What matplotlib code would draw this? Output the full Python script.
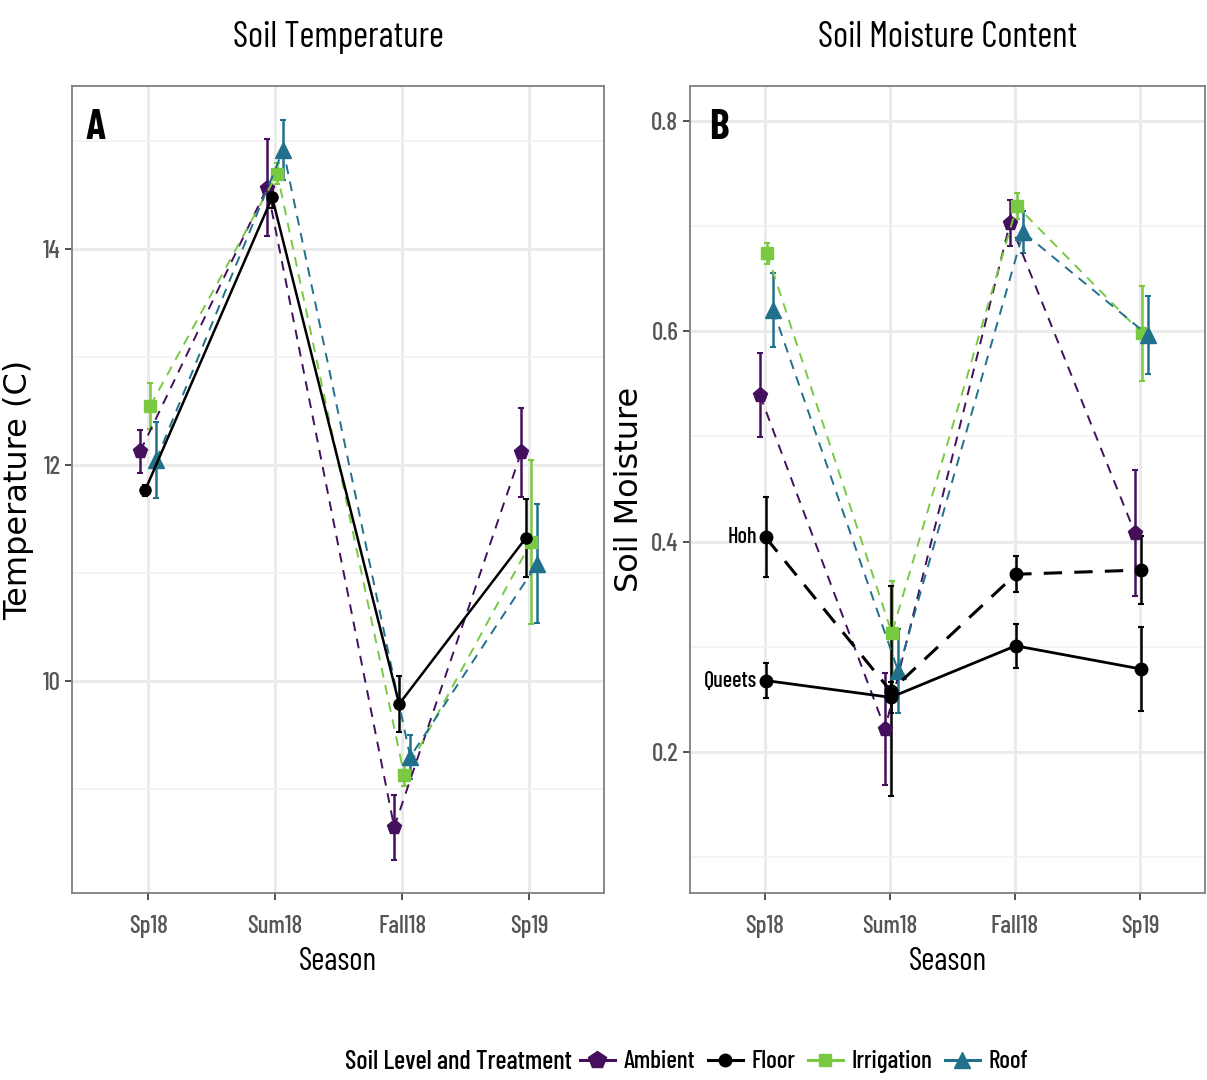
import matplotlib
matplotlib.use("Agg")
from matplotlib import pyplot as plt
from matplotlib.lines import Line2D
import numpy as np

# narrow face when present, plain Liberation Sans otherwise
plt.rcParams['font.family'] = ['Barlow Condensed', 'Archivo Narrow', 'Liberation Sans', 'DejaVu Sans']
plt.rcParams['font.weight'] = 'medium'

seasons = ['Sp18', 'Sum18', 'Fall18', 'Sp19']

# panel A - soil temperature (C)
temp_ambient = [12.13, 14.57, 8.65, 12.12]
temp_ambient_se = [0.20, 0.45, 0.30, 0.41]
temp_floor = [11.77, 14.48, 9.79, 11.33]
temp_floor_se = [0.05, 0.10, 0.26, 0.36]
temp_irrig = [12.55, 14.70, 9.13, 11.29]
temp_irrig_se = [0.21, 0.10, 0.10, 0.76]
temp_roof = [12.05, 14.92, 9.30, 11.09]
temp_roof_se = [0.35, 0.28, 0.20, 0.55]

# panel B - soil moisture
moist_ambient = [0.539, 0.222, 0.703, 0.408]
moist_ambient_se = [0.040, 0.053, 0.022, 0.060]
moist_irrig = [0.674, 0.313, 0.719, 0.598]
moist_irrig_se = [0.010, 0.050, 0.012, 0.045]
moist_roof = [0.620, 0.277, 0.694, 0.596]
moist_roof_se = [0.035, 0.040, 0.020, 0.037]
moist_hoh = [0.404, 0.258, 0.369, 0.373]
moist_hoh_se = [0.038, 0.100, 0.017, 0.032]
moist_queets = [0.268, 0.252, 0.301, 0.279]
moist_queets_se = [0.017, 0.015, 0.021, 0.040]

treatments = ['Ambient', 'Floor', 'Irrigation', 'Roof']

c_amb = '#440f5c'
c_floor = '#000000'
c_irr = '#7ac943'
c_roof = '#21718c'
tick_gray = '#555555'
wide = ['DejaVu Sans']

x = np.arange(1, 5)

fig = plt.figure(figsize=(12.07, 10.8), dpi=100)
axA = fig.add_axes([0.0597, 0.1731, 0.4408, 0.7472])
axB = fig.add_axes([0.5717, 0.1731, 0.4267, 0.7472])


def series(ax, xs, ys, se, color, marker, ls, lw, ms, dashes=None):
    eb = ax.errorbar(xs, ys, yerr=se, color=color, marker=marker, ms=ms,
                     linestyle=ls, lw=lw, elinewidth=1.8, capsize=2.5,
                     capthick=1.5, zorder=3)
    if dashes is not None:
        eb[0].set_dashes(dashes)
    return eb


# panel A
series(axA, x - 0.063, temp_ambient, temp_ambient_se, c_amb, 'p', '--', 1.4, 11, (5, 4))
series(axA, x + 0.016, temp_irrig, temp_irrig_se, c_irr, 's', '--', 1.4, 9, (5, 4))
series(axA, x + 0.063, temp_roof, temp_roof_se, c_roof, '^', '--', 1.4, 11, (5, 4))
series(axA, x - 0.024, temp_floor, temp_floor_se, c_floor, 'o', '-', 1.8, 8)

# panel B
series(axB, x - 0.04, moist_ambient, moist_ambient_se, c_amb, 'p', '--', 1.4, 11, (5, 4))
series(axB, x + 0.015, moist_irrig, moist_irrig_se, c_irr, 's', '--', 1.4, 9, (5, 4))
series(axB, x + 0.065, moist_roof, moist_roof_se, c_roof, '^', '--', 1.4, 11, (5, 4))
series(axB, x + 0.005, moist_hoh, moist_hoh_se, c_floor, 'o', '--', 2.2, 9, (6, 4))
series(axB, x + 0.005, moist_queets, moist_queets_se, c_floor, 'o', '-', 2.0, 9)
axB.text(0.935, moist_hoh[0], 'Hoh', ha='right', va='center', fontsize=16)
axB.text(0.935, moist_queets[0], 'Queets', ha='right', va='center', fontsize=16)

for ax in (axA, axB):
    ax.set_xticks(x)
    ax.set_xticklabels(seasons)
    ax.tick_params(axis='both', colors='#333333', labelcolor=tick_gray,
                   labelsize=18, length=5, width=1.2)
    ax.tick_params(axis='x', pad=11)
    ax.grid(True, which='major', color='#ebebeb', lw=2.2, zorder=0)
    ax.grid(True, which='minor', axis='y', color='#f2f2f2', lw=1.2, zorder=0)
    ax.set_axisbelow(True)
    for s in ax.spines.values():
        s.set_color('#7f7f7f')
        s.set_linewidth(1.3)
    ax.set_xlabel('Season', fontsize=23, labelpad=6)

axA.set_xlim(0.4, 4.59)
axA.set_ylim(8.04, 15.51)
axA.set_yticks([10, 12, 14])
axA.set_yticks([9, 11, 13, 15], minor=True)
axA.tick_params(axis='y', which='minor', length=0)
axA.set_ylabel('Temperature (C)', fontsize=23, family=wide, fontweight='normal', labelpad=6)
axA.set_title('Soil Temperature', fontsize=26, pad=28)
axA.text(0.026, 0.972, 'A', transform=axA.transAxes, fontsize=30,
         fontweight='bold', ha='left', va='top')

axB.set_xlim(0.4, 4.52)
axB.set_ylim(0.066, 0.833)
axB.set_yticks([0.2, 0.4, 0.6, 0.8])
axB.set_yticks([0.1, 0.3, 0.5, 0.7], minor=True)
axB.tick_params(axis='y', which='minor', length=0)
axB.set_ylabel('Soil Moisture', fontsize=23, family=wide, fontweight='normal', labelpad=4)
axB.set_title('Soil Moisture Content', fontsize=26, pad=28)
axB.text(0.038, 0.972, 'B', transform=axB.transAxes, fontsize=30,
         fontweight='bold', ha='left', va='top')

# legend along the bottom
fig.text(0.2858, 0.0167, 'Soil Level and Treatment', fontsize=19,
         ha='left', va='center')
handles = [
    Line2D([], [], color=c_amb, marker='p', ms=13, lw=2.2),
    Line2D([], [], color=c_floor, marker='o', ms=9, lw=2.2),
    Line2D([], [], color=c_irr, marker='s', ms=9, lw=2.2),
    Line2D([], [], color=c_roof, marker='^', ms=12, lw=2.2),
]
fig.legend(handles, treatments,
           loc='center left', bbox_to_anchor=(0.4805, 0.0167), ncol=4,
           frameon=False, fontsize=18, handlelength=1.4, handletextpad=0.35,
           columnspacing=0.5, borderaxespad=0, borderpad=0)

fig.savefig('out.png', dpi=100)
